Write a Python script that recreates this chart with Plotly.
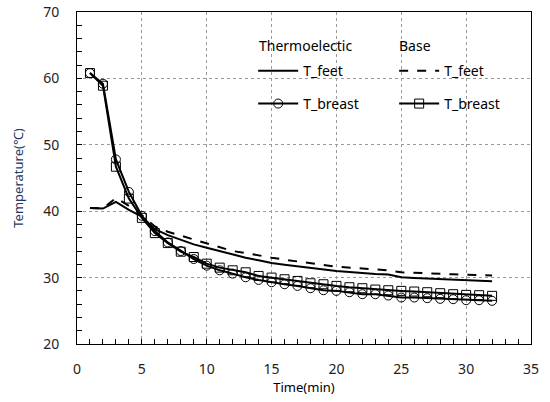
import plotly.graph_objects as go

time_min = list(range(1, 33))

# Thermoelectric
te_feet = [40.5, 40.4, 41.4, 40.2, 39.2, 37.3, 36.4, 35.7, 35.0, 34.5, 34.0, 33.4,
           33.0, 32.6, 32.2, 31.95, 31.7, 31.45, 31.2, 31.0, 30.85, 30.65, 30.55, 30.45,
           30.05, 29.95, 29.85, 29.8, 29.7, 29.65, 29.55, 29.45]
te_breast = [60.8, 59.2, 47.8, 42.9, 39.3, 37.0, 35.3, 34.0, 32.8, 31.8, 31.1, 30.6,
             30.05, 29.65, 29.3, 29.0, 28.75, 28.4, 28.1, 28.0, 27.8, 27.5, 27.5, 27.3,
             27.0, 27.0, 26.9, 26.8, 26.75, 26.6, 26.6, 26.5]

# Base
base_feet = [40.5, 40.4, 42.0, 40.8, 39.4, 37.7, 36.9, 36.3, 35.7, 35.2, 34.6, 34.0,
             33.7, 33.3, 33.0, 32.7, 32.4, 32.2, 31.9, 31.65, 31.5, 31.3, 31.2, 31.1,
             30.8, 30.7, 30.6, 30.55, 30.5, 30.45, 30.35, 30.3]
base_breast = [60.8, 58.9, 46.7, 41.9, 39.0, 36.7, 35.2, 33.9, 33.1, 32.1, 31.5, 31.1,
               30.8, 30.25, 30.0, 29.75, 29.5, 29.15, 29.0, 28.75, 28.55, 28.4, 28.2, 28.1,
               28.0, 27.9, 27.8, 27.65, 27.5, 27.4, 27.35, 27.25]

FONT = "Noto Sans"
BLACK = "black"

fig = go.Figure()

fig.add_trace(go.Scatter(
    x=time_min, y=te_feet, name="T_feet", mode="lines",
    line=dict(color=BLACK, width=2), legend="legend",
))
fig.add_trace(go.Scatter(
    x=time_min, y=base_feet, name="T_feet", mode="lines",
    line=dict(color=BLACK, width=2, dash="dash"), legend="legend",
))
fig.add_trace(go.Scatter(
    x=time_min, y=te_breast, name="T_breast", mode="lines+markers",
    line=dict(color=BLACK, width=2),
    marker=dict(symbol="circle-open", size=9, color=BLACK, line=dict(width=1)),
    legend="legend2",
))
fig.add_trace(go.Scatter(
    x=time_min, y=base_breast, name="T_breast", mode="lines+markers",
    line=dict(color=BLACK, width=2),
    marker=dict(symbol="square-open", size=9, color=BLACK, line=dict(width=1)),
    legend="legend2",
))

legend_style = dict(
    orientation="h", xanchor="left", yanchor="middle",
    bgcolor="rgba(0,0,0,0)", itemwidth=40, entrywidth=86,
    font=dict(family=FONT, size=14, color=BLACK),
    itemclick=False, itemdoubleclick=False,
)

fig.update_layout(
    width=550, height=402,
    margin=dict(l=77, r=19, t=12, b=58),
    paper_bgcolor="white", plot_bgcolor="white",
    font=dict(family=FONT, size=14, color="#222222"),
    legend=dict(x=0.388, y=0.822, **legend_style),
    legend2=dict(x=0.388, y=0.723, **legend_style),
    annotations=[
        dict(text="Thermoelectic", x=0.397, y=0.9, xref="paper", yref="paper",
             xanchor="left", yanchor="middle", showarrow=False,
             font=dict(family=FONT, size=14, color=BLACK)),
        dict(text="Base", x=0.705, y=0.9, xref="paper", yref="paper",
             xanchor="left", yanchor="middle", showarrow=False,
             font=dict(family=FONT, size=14, color=BLACK)),
    ],
)

fig.update_xaxes(
    range=[0, 35], dtick=5, tick0=0, automargin=False,
    showline=True, linecolor=BLACK, linewidth=1, mirror=True,
    ticks="inside", ticklen=5, tickcolor=BLACK, ticklabelstandoff=12,
    minor=dict(dtick=1, ticks="inside", ticklen=5, tickcolor=BLACK, showgrid=False),
    showgrid=True, gridcolor="#9a9a9a", griddash="dot", gridwidth=1,
    zeroline=False,
    title=dict(text="Time(min)", font=dict(family=FONT, size=13, color=BLACK), standoff=4),
)
fig.update_yaxes(
    range=[20, 70], dtick=10, tick0=0, automargin=False,
    showline=True, linecolor=BLACK, linewidth=1, mirror=True,
    ticks="inside", ticklen=5, tickcolor=BLACK, ticklabelstandoff=14,
    minor=dict(dtick=2, ticks="inside", ticklen=5, tickcolor=BLACK, showgrid=False),
    showgrid=True, gridcolor="#9a9a9a", griddash="dot", gridwidth=1,
    zeroline=False,
    title=dict(text="Temperature(℃)", font=dict(family=FONT, size=13, color="#1F3864"), standoff=16),
)

# drop the page's default body margin so the 550x402 figure fills the window
fig.write_html(
    "out.html",
    config={"displayModeBar": False},
    post_script="document.body.style.margin='0';",
)
